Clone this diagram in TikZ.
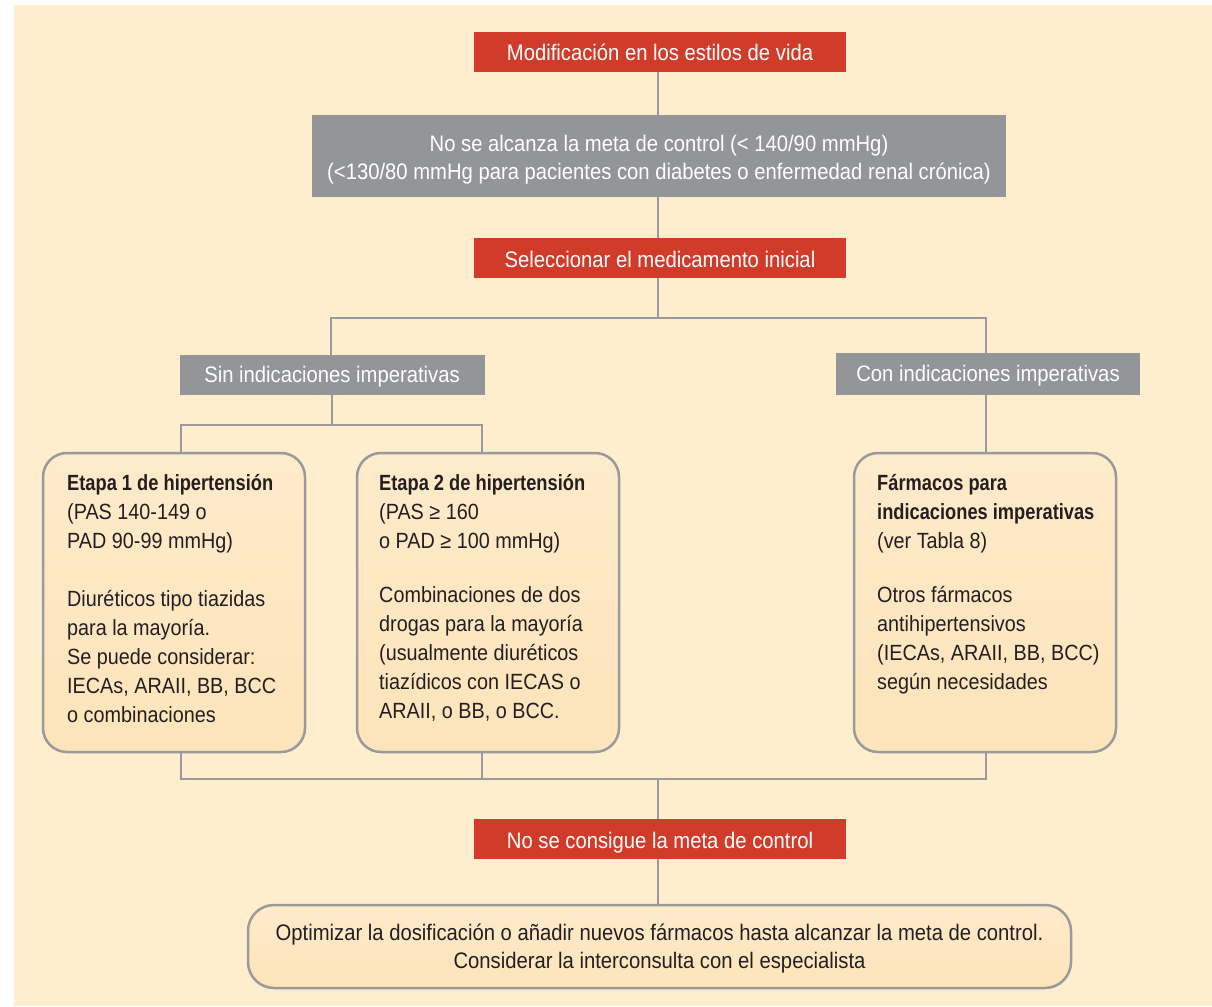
\documentclass[tikz,border=0pt]{standalone}
\usepackage{fontspec}
\setmainfont{Liberation Sans}[FakeStretch=0.9, BoldFeatures={FakeStretch=0.83}]
\definecolor{bgc}{HTML}{FEEECE}
\definecolor{redc}{HTML}{D13B2A}
\definecolor{grayc}{HTML}{939598}
\definecolor{linec}{HTML}{9A9A9A}
\definecolor{fillA}{HTML}{FEEBCB}
\definecolor{fillB}{HTML}{FDE4BA}
\definecolor{txtc}{HTML}{231F20}
\newcommand{\fsz}{\fontsize{22}{29}\selectfont}
\newcommand{\fszb}{\fontsize{22.5}{28}\selectfont}
\tikzset{
  redbox/.style={fill=redc, text=white, minimum width=372pt, minimum height=40pt, inner sep=0pt, font=\fszb, text height=20pt, text depth=2pt},
  graybox/.style={fill=grayc, text=white, inner sep=0pt, font=\fszb},
  grayone/.style={graybox, text height=18pt, text depth=3pt},
  roundbox/.style={draw=linec, line width=2.5pt, rounded corners=24pt, top color=fillA, bottom color=fillB, inner sep=0pt},
  conn/.style={draw=linec, line width=2.5pt},
  txtblock/.style={text=txtc, align=left, inner sep=0pt, font=\fsz},
  ctrtxt/.style={text=txtc, align=center, inner sep=0pt, font=\fszb}
}
\begin{document}
\begin{tikzpicture}[x=1pt,y=-1pt]
\useasboundingbox (0,0) rectangle (1212,1006);
\fill[bgc] (14,5) rectangle (1212,1006);

\node[redbox] (m1) at (660,52) {Modificación en los estilos de vida};
\node[graybox, minimum width=694pt, minimum height=82pt] (g2) at (659,156) {};
\node[graybox, fill=none, align=center] (g2t) at (659,160)
  {No se alcanza la meta de control (< 140/90 mmHg)\\(<130/80 mmHg para pacientes con diabetes o enfermedad renal crónica)};
\node[redbox] (sel) at (660,258) {Seleccionar el medicamento inicial};
\node[grayone, minimum width=305pt, minimum height=40pt] (sin) at (332,375) {Sin indicaciones imperativas};
\node[grayone, minimum width=304pt, minimum height=42pt] (con) at (988,374) {Con indicaciones imperativas};

\node[roundbox, minimum width=262pt, minimum height=299pt] (b1) at (174,602.5) {};
\node[roundbox, minimum width=262pt, minimum height=299pt] (b2) at (488,602.5) {};
\node[roundbox, minimum width=262pt, minimum height=299pt] (b3) at (985,602.5) {};

\node[txtblock, anchor=north west] (t1) at (67,474) {\textbf{Etapa 1 de hipertensión}\\(PAS 140-149 o\\PAD 90-99 mmHg)\\[29pt]Diuréticos tipo tiazidas\\para la mayoría.\\Se puede considerar:\\IECAs, ARAII, BB, BCC\\o combinaciones};
\node[txtblock, anchor=north west] (t2) at (379,474) {\textbf{Etapa 2 de hipertensión}\\(PAS ≥ 160\\o PAD ≥ 100 mmHg)\\[25pt]Combinaciones de dos\\drogas para la mayoría\\(usualmente diuréticos\\tiazídicos con IECAS o\\ARAII, o BB, o BCC.};
\node[txtblock, anchor=north west] (t3) at (877,474) {\textbf{Fármacos para}\\\textbf{indicaciones imperativas}\\(ver Tabla 8)\\[25pt]Otros fármacos\\antihipertensivos\\(IECAs, ARAII, BB, BCC)\\según necesidades};

\node[redbox] (nc) at (660,839) {No se consigue la meta de control};
\node[roundbox, rounded corners=26pt, minimum width=823pt, minimum height=83pt] (b4) at (659.5,946.5) {};
\node[ctrtxt] (t4) at (659.5,949) {Optimizar la dosificación o añadir nuevos fármacos hasta alcanzar la meta de control.\\Considerar la interconsulta con el especialista};

\coordinate (j1) at (658,318);
\coordinate (j2) at (332,425);
\coordinate (j3) at (658,779);

\draw[conn] (m1.south -| j1) -- (g2.north -| j1);
\draw[conn] (g2.south -| j1) -- (sel.north -| j1);
\draw[conn] (sel.south -| j1) -- (j1);
\draw[conn] ([xshift=-1pt]sin.north) |- (j1) -| ([xshift=-2pt]con.north);
\draw[conn] (sin.south) -- (j2);
\draw[conn] ([xshift=7pt]b1.north) |- (j2) -| ([xshift=-6pt]b2.north);
\draw[conn] ([xshift=-2pt]con.south) -- ([xshift=1pt]b3.north);
\draw[conn] ([xshift=7pt]b1.south) |- ([xshift=1pt]b3.south |- j3) -- ([xshift=1pt]b3.south);
\draw[conn] ([xshift=-6pt]b2.south) -- ([xshift=-6pt]b2.south |- j3);
\draw[conn] (j3) -- (nc.north -| j3);
\draw[conn] (nc.south -| j3) -- (b4.north -| j3);
\end{tikzpicture}
\end{document}
